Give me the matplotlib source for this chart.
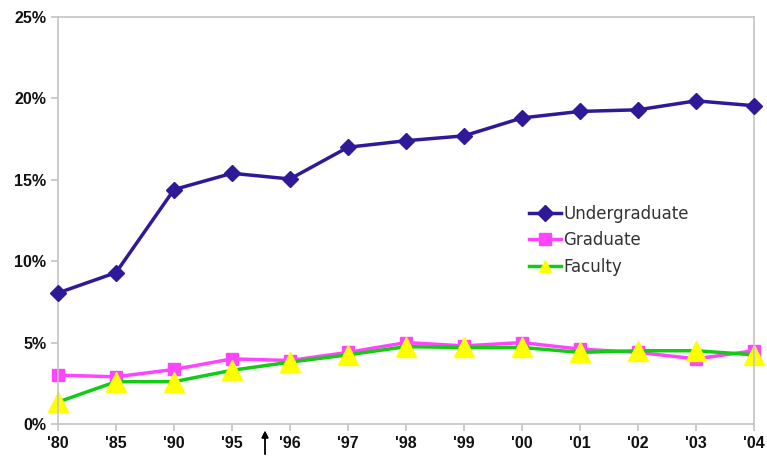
import numpy as np
import matplotlib.pyplot as plt

plt.rcParams['font.family'] = ['Liberation Sans', 'DejaVu Sans']

years = ["'80", "'85", "'90", "'95", "'96", "'97", "'98", "'99", "'00", "'01", "'02", "'03", "'04"]
undergrad = [8.05, 9.3, 14.4, 15.4, 15.05, 17.0, 17.4, 17.7, 18.8, 19.2, 19.3, 19.85, 19.55]
graduate = [3.0, 2.9, 3.35, 4.0, 3.9, 4.4, 5.0, 4.8, 5.0, 4.6, 4.4, 4.0, 4.5]
faculty = [1.35, 2.6, 2.6, 3.3, 3.8, 4.25, 4.75, 4.7, 4.7, 4.4, 4.5, 4.5, 4.25]

fig = plt.figure(figsize=(7.67, 4.57), dpi=100)
ax = fig.add_axes([58 / 767, 1 - 424 / 457, 696 / 767, 407 / 457])

x = np.arange(len(years))
ax.plot(x, undergrad, color='#2e1a99', lw=2.5, marker='D', ms=8,
        label='Undergraduate', clip_on=False, zorder=3)
ax.plot(x, graduate, color='#ff44ff', lw=2.5, marker='s', ms=9,
        label='Graduate', clip_on=False, zorder=2)
ax.plot(x, faculty, color='#11cc11', lw=2.5, marker='^', ms=14,
        mfc='#ffff00', mec='#ffff00', label='Faculty', clip_on=False, zorder=2.5)

ax.set_xlim(0, 12)
ax.set_ylim(0, 25)
ax.set_xticks(x)
ax.set_xticklabels(years)
ax.set_yticks([0, 5, 10, 15, 20, 25])
ax.set_yticklabels(['%d%%' % v for v in [0, 5, 10, 15, 20, 25]])
for s in ax.spines.values():
    s.set_color('#c4c4c4')
    s.set_linewidth(1.2)
ax.tick_params(colors='#c4c4c4', labelcolor='#111111', length=5, width=1.2)
for lab in ax.get_xticklabels() + ax.get_yticklabels():
    lab.set_fontweight('bold')
    lab.set_fontsize(11.5)

leg = ax.legend(loc='upper left', bbox_to_anchor=(514 / 767, 1 - 190 / 457),
                bbox_transform=fig.transFigure, frameon=False,
                prop={'family': 'DejaVu Sans', 'size': 12},
                handlelength=1.9, handletextpad=0.15, labelspacing=0.5,
                labelcolor='#333333')
for h in leg.legend_handles:
    h.set_markersize(8)

fig.add_artist(plt.annotate('', xy=(265 / 767, 1 - 428 / 457), xytext=(265 / 767, 0),
                            xycoords='figure fraction',
                            arrowprops=dict(arrowstyle='-|>', color='black', lw=1,
                                            mutation_scale=10)))

fig.savefig('out.png', dpi=100)
